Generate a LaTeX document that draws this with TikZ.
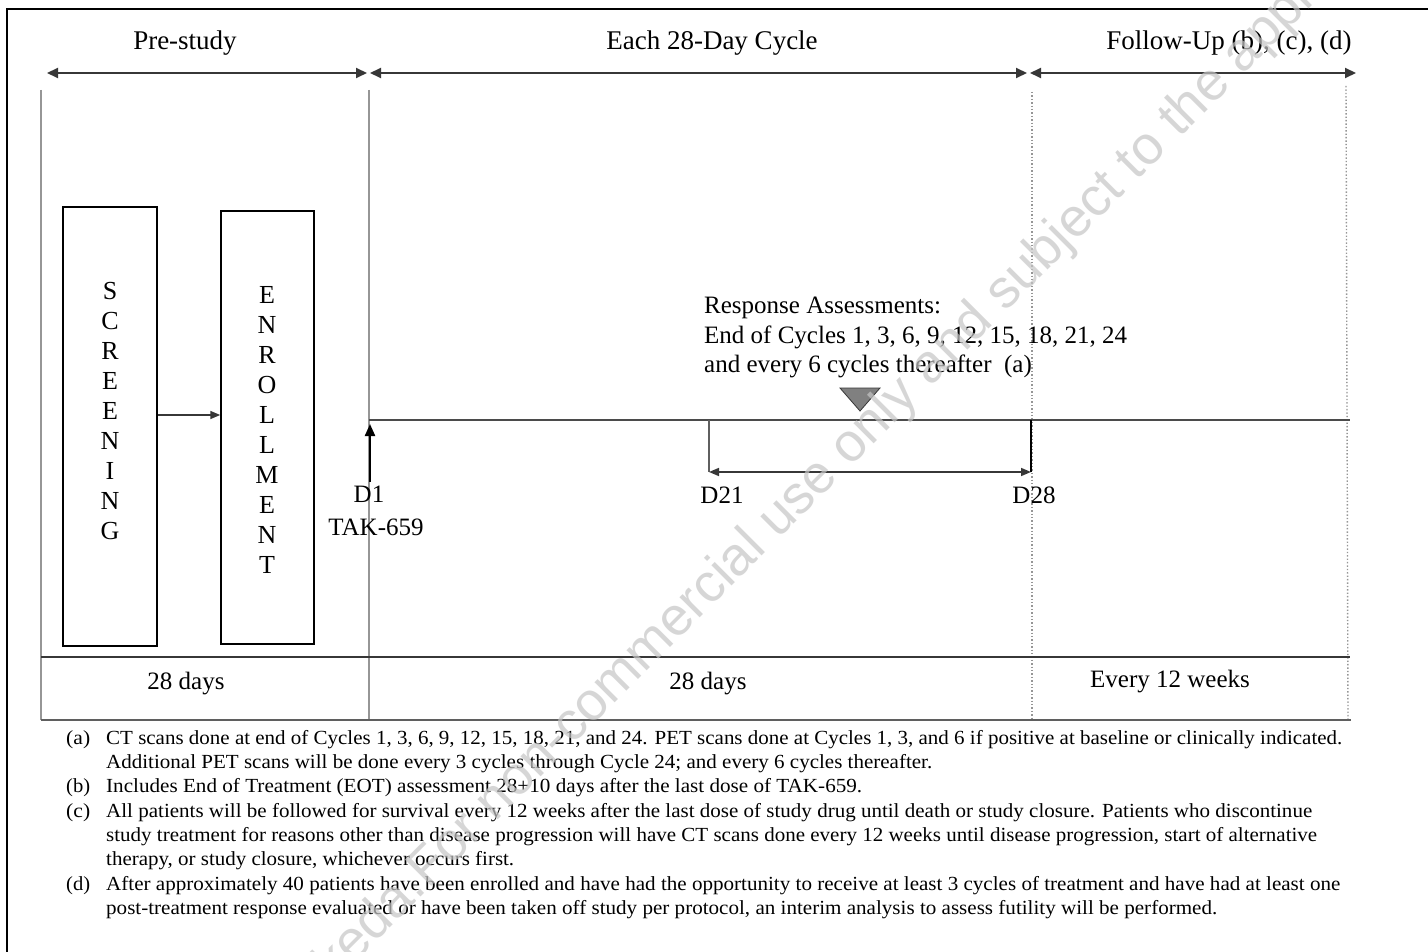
\documentclass[tikz,border=0pt]{standalone}
\usepackage{fontspec}
\setmainfont{Liberation Serif}
\newfontfamily\wmfont{Liberation Sans}
\usepackage{graphicx}
\usetikzlibrary{arrows.meta}
\definecolor{lndark}{RGB}{55,55,55}
\definecolor{lngray}{RGB}{150,150,150}
\definecolor{trigray}{RGB}{128,128,128}
\newcommand\fnline[4]{\node[fnote] (#1) at (106,#2) {\resizebox{#3pt}{\height}{#4}};}
\newcommand\fnlab[3]{\node[fnote] (#1) at (66,#2) {\resizebox{24pt}{\height}{#3}};}
\begin{document}
\begin{tikzpicture}[x=1pt,y=-1pt,
  hdr/.style={font=\fontsize{27}{30}\selectfont, inner sep=0pt},
  lbl/.style={font=\fontsize{25}{30}\selectfont, inner sep=0pt},
  fnote/.style={anchor=base west, inner sep=0pt, font=\fontsize{20}{24}\selectfont},
  stack/.style={font=\fontsize{26}{30}\selectfont, align=center, inner sep=0pt, anchor=north},
  period/.style={draw=lndark, line width=2pt, {Triangle[length=11pt,width=10pt]}-{Triangle[length=11pt,width=10pt]}},
  gline/.style={draw=lngray, line width=1.5pt},
  dline/.style={draw=lndark, line width=1.6pt},
  dotline/.style={draw=lngray, line width=1.4pt, dotted},
  phasebox/.style={draw=black, line width=1.5pt, inner sep=0pt},
  tip/.style={-{Triangle[length=10pt,width=8pt]}},
  wmark/.style={font=\wmfont\fontsize{54}{60}\selectfont, text=gray!45, opacity=0.7, inner sep=0pt, rotate=45}
]
\useasboundingbox (0,0) rectangle (1428,952);
\clip (0,0) rectangle (1428,952);
\fill[white] (0,0) rectangle (1428,952);

% outer frame
\draw[black, line width=2pt] (7,952) -- (7,9) -- (1428,9);

% header labels
\node[hdr] (hpre) at (185,43) {Pre-study};
\node[hdr] (hcyc) at (712,43) {Each 28-Day Cycle};
\node[hdr] (hfol) at (1229,43) {Follow-Up (b), (c), (d)};

% header period arrows
\coordinate (p0) at (47,73);
\coordinate (p1) at (367,73);
\coordinate (p2) at (370,73);
\coordinate (p3) at (1027,73);
\coordinate (p4) at (1030,73);
\coordinate (p5) at (1356,73);
\draw[period] (p0) -- (p1);
\draw[period] (p2) -- (p3);
\draw[period] (p4) -- (p5);

% grid lines
\coordinate (gl0) at (41,90);
\coordinate (gl1) at (41,720);
\coordinate (gm0) at (369,90);
\coordinate (gm1) at (369,720);
\coordinate (gd0) at (1032,92);
\coordinate (gd1) at (1032,720);
\coordinate (gr0) at (1346,86);
\coordinate (gr1) at (1348,720);
\draw[gline] (gl0) -- (gl1);
\draw[gline] (gm0) -- (gm1);
\draw[dotline] (gd0) -- (gd1);
\draw[dotline] (gr0) -- (gr1);

\coordinate (t0) at (369,420);
\coordinate (t1) at (1350,420);
\draw[dline, draw=lndark!90] (t0) -- (t1);
\coordinate (r0) at (41,657);
\coordinate (r1) at (1350,657);
\draw[dline] (r0) -- (r1);
\coordinate (b0) at (41,720);
\coordinate (b1) at (1351,720);
\draw[dline, line width=2pt, draw=lndark!80] (b0) -- (b1);

% screening / enrollment boxes
\node[phasebox, minimum width=94pt, minimum height=439pt] (scr) at (110,426.5) {};
\node[phasebox, minimum width=93pt, minimum height=433pt] (enr) at (267.5,427.5) {};
\node[stack] (scrtext) at (110,282) {S\\C\\R\\E\\E\\N\\I\\N\\G};
\node[stack] (enrtext) at (267,286) {E\\N\\R\\O\\L\\L\\M\\E\\N\\T};
\coordinate (ay) at (0,415);
\draw[dline, tip] (scr.east |- ay) -- (enr.west |- ay);

% D1 arrow
\node[lbl] (d1) at (369,494) {D1};
\node[lbl] (tak) at (376,527) {TAK-659};
\coordinate (d1top) at (370,424);
\draw[draw=black, line width=2.2pt, -{Triangle[length=12pt,width=10pt]}] (d1.north) ++(1,-4) -- (d1top);

% D21 - D28
\coordinate (d21a) at (709,420);
\coordinate (d21b) at (709,472);
\coordinate (d28a) at (1031,420);
\coordinate (d28b) at (1031,472);
\draw[gline, draw=lndark!80] (d21a) -- (d21b);
\draw[dline, draw=black] (d28a) -- (d28b);
\draw[dline, {Triangle[length=10pt,width=8pt]}-{Triangle[length=10pt,width=8pt]}] (d21b) -- (d28b);
\node[lbl] (d21) at (722,495) {D21};
\node[lbl] (d28) at (1034,495) {D28};

% response assessment marker
\coordinate (tr1) at (840,388);
\coordinate (tr2) at (880,388);
\coordinate (tr3) at (860,411);
\filldraw[fill=trigray, draw=lndark, line width=0.8pt] (tr1) -- (tr2) -- (tr3) -- cycle;
\node[lbl, anchor=base west] (ra1) at (704,313) {Response Assessments:};
\node[lbl, anchor=base west] (ra2) at (704,343) {End of Cycles 1, 3, 6, 9, 12, 15, 18, 21, 24};
\node[lbl, anchor=base west] (ra3) at (704,372) {and every 6 cycles thereafter\ \ (a)};

% durations
\node[lbl] (dur1) at (186,684) {28 days};
\node[lbl] (dur2) at (708,684) {28 days};
\node[lbl] (dur3) at (1170,682) {Every 12 weeks};

% footnotes
\fnlab{la}{744}{(a)}
\fnline{fa1}{744}{1236}{CT scans done at end of Cycles 1, 3, 6, 9, 12, 15, 18, 21, and 24. PET scans done at Cycles 1, 3, and 6 if positive at baseline or clinically indicated.}
\fnline{fa2}{768}{826}{Additional PET scans will be done every 3 cycles through Cycle 24; and every 6 cycles thereafter.}
\fnlab{lb}{792}{(b)}
\fnline{fb1}{792}{756}{Includes End of Treatment (EOT) assessment 28+10 days after the last dose of TAK-659.}
\fnlab{lc}{817}{(c)}
\fnline{fc1}{817}{1206}{All patients will be followed for survival every 12 weeks after the last dose of study drug until death or study closure. Patients who discontinue}
\fnline{fc2}{841}{1211}{study treatment for reasons other than disease progression will have CT scans done every 12 weeks until disease progression, start of alternative}
\fnline{fc3}{865}{408}{therapy, or study closure, whichever occurs first.}
\fnlab{ld}{890}{(d)}
\fnline{fd1}{890}{1234}{After approximately 40 patients have been enrolled and have had the opportunity to receive at least 3 cycles of treatment and have had at least one}
\fnline{fd2}{914}{1111}{post-treatment response evaluated or have been taken off study per protocol, an interim analysis to assess futility will be performed.}

% watermark
\coordinate (wm) at (428,890);
\node[wmark, anchor=base west] (wm2) at (wm) {For non-commercial use only and subject to the applicable Terms of Use};
\node[wmark, anchor=base east] (wm1) at (wm) {Property of Takeda.\ };
\end{tikzpicture}
\end{document}
